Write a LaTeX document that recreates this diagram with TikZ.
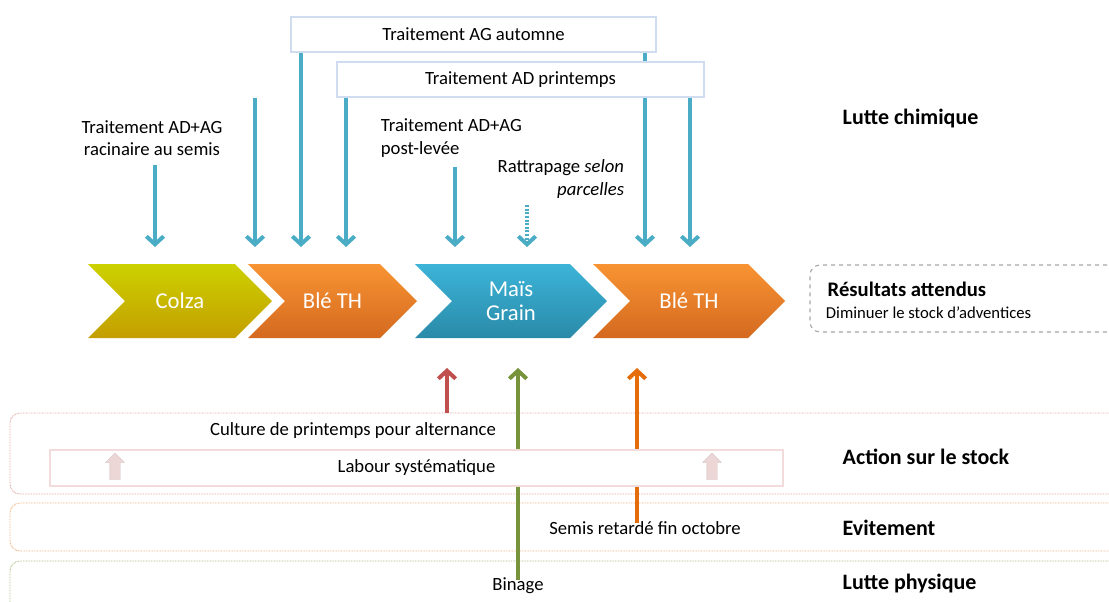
\documentclass[tikz,border=0pt]{standalone}
\usepackage{fontspec}
\setmainfont{Carlito}
\usepackage{tikz}
\usetikzlibrary{positioning,shapes.symbols,shapes.arrows,arrows.meta}

\definecolor{chemblue}{RGB}{75,172,198}
\definecolor{boxline}{RGB}{208,221,240}
\definecolor{stockred}{RGB}{192,80,77}
\definecolor{evitorange}{RGB}{228,108,10}
\definecolor{physgreen}{RGB}{119,147,60}
\definecolor{pinkline}{RGB}{242,220,219}
\definecolor{pinkfill}{RGB}{236,214,214}

\begin{document}
\begin{tikzpicture}[x=0.75pt,y=-0.75pt,
  txt/.style={font=\fontsize{14}{17}\selectfont,inner sep=2pt},
  title/.style={font=\bfseries\fontsize{16.5}{20}\selectfont,anchor=west},
  crop/.style={signal,signal from=west,signal to=east,signal pointer angle=90,
    minimum height=55.5pt,inner sep=0pt,text=white,font=\fontsize{17}{20}\selectfont,align=center},
  treat/.style={draw=boxline,fill=white,line width=0.8pt,minimum height=26.25pt,txt},
  band/.style={rounded corners=7.5pt,line width=0.7pt,dash pattern=on 0.6pt off 0.6pt,
    minimum width=836.25pt},
  chem/.style={draw=chemblue,line width=3pt,-{Straight Barb[length=6pt,width=13pt]}},
  up/.style={line width=3pt,-{Straight Barb[length=6pt,width=13pt]}},
  pinkarrow/.style={single arrow,shape border rotate=90,fill=pinkfill,draw=pinkfill!90!black,
    line width=0.3pt,minimum height=20pt,inner sep=3.75pt,single arrow head extend=3.2pt}]
\useasboundingbox (0,0) rectangle (1109,601);
% Nodes
\node(colza)[crop,minimum width=138pt,top color={rgb,255:red,204;green,209;blue,0},
  bottom color={rgb,255:red,196;green,158;blue,0}] at (180,301){Colza};
\node(ble1)[crop,minimum width=126.75pt,top color={rgb,255:red,248;green,148;blue,51},
  bottom color={rgb,255:red,212;green,105;blue,31}] at (332.5,301){Blé TH};
\node(mais)[crop,minimum width=144pt,top color={rgb,255:red,60;green,180;blue,216},
  bottom color={rgb,255:red,42;green,138;blue,168}] at (511,301){Maïs\\[-2pt]Grain};
\node(ble2)[crop,minimum width=144pt,top color={rgb,255:red,248;green,148;blue,51},
  bottom color={rgb,255:red,212;green,105;blue,31}] at (689,301){Blé TH};
\node(res)[draw=black!35,dashed,line width=0.8pt,rounded corners=7.5pt,minimum width=236.25pt,
  minimum height=50.25pt] at (967.5,298.5){};
\node(resT)[title,font=\bfseries\fontsize{15.5}{18}\selectfont] at (823,289){Résultats attendus};
\node(resD)[txt,anchor=west,font=\fontsize{12.5}{15}\selectfont] at (823,313){Diminuer le stock d’adventices};
\node(racine)[txt,align=center] at (152,138){Traitement AD+AG\\racinaire au semis};
\node(postlev)[txt,align=left,anchor=west] at (378,138){Traitement AD+AG\\post-levée};
\node(rattr)[txt,align=right,anchor=east] at (627,179){Rattrapage \textit{selon}\\\textit{parcelles}};
\node(chim)[title] at (838,119){Lutte chimique};
\node(stock)[band,draw=stockred!50,minimum height=60.75pt] at (567.5,453.5){};
\node(evit)[band,draw=evitorange!50,minimum height=36pt] at (567.5,527){};
\node(phys)[band,draw=physgreen!60,minimum height=44.25pt] at (567.5,590.5){};
\node(culture)[txt] at (353,431){Culture de printemps pour alternance};
\node(semis)[txt] at (645,528){Semis retardé fin octobre};
\node(binage)[txt] at (518,586){Binage};
\node(stockT)[title] at (838,457){Action sur le stock};
\node(evitT)[title] at (838,528){Evitement};
\node(physT)[title] at (838,583){Lutte physique};
\coordinate(c1) at (155,247);
\coordinate(c2) at (255,247);
\coordinate(c3) at (301,247);
\coordinate(c4) at (346,247);
\coordinate(c5) at (455,247);
\coordinate(c6) at (527,247);
\coordinate(c7) at (645,247);
\coordinate(c8) at (690,247);
\coordinate(u1) at (447,368);
\coordinate(u2) at (518,368);
\coordinate(u3) at (637,368);
% Arrows
\node(agaut)[treat,minimum width=273.75pt] at (473.5,34.5){Traitement AG automne};
\draw[chem] (c3 |- agaut.south) -- (c3);
\draw[chem] (c7 |- agaut.south) -- (c7);
\node(adprin)[treat,minimum width=275.25pt] at (520.5,79.5){Traitement AD printemps};
\draw[chem] (c2 |- adprin.south) -- (c2);
\draw[chem] (c4 |- adprin.south) -- (c4);
\draw[chem] (c8 |- adprin.south) -- (c8);
\draw[chem,shorten <=5pt] (c1 |- racine.south) -- (c1);
\draw[chem,shorten <=5pt] (c5 |- postlev.south) -- (c5);
\draw[chem,dash pattern=on 1.5pt off 1.2pt,shorten <=3pt] (c6 |- rattr.south) -- (c6);
\draw[up,stockred] (u1 |- stock.north) -- (u1);
\draw[up,physgreen,shorten <=-4pt] (binage.north) -- (u2);
\draw[up,evitorange,shorten <=-3pt] (u3 |- semis.north) -- (u3);
\node(labour)[draw=pinkline,fill=white,line width=0.8pt,minimum width=549.75pt,minimum height=27pt,txt]
  at (416.5,468){Labour systématique};
\node(pk1)[pinkarrow] at (115,469){};
\node(pk2)[pinkarrow] at (712,469){};
\end{tikzpicture}
\end{document}
